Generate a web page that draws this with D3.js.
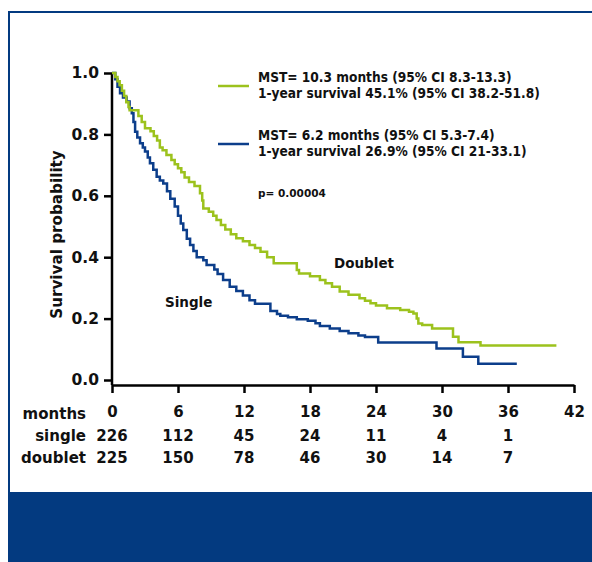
<!DOCTYPE html>
<html>
<head>
<meta charset="utf-8">
<script src="https://cdn.jsdelivr.net/npm/d3@7"></script>
<style>
  html, body { margin: 0; padding: 0; background: #fff; }
  svg text { font-family: "DejaVu Sans", sans-serif; font-weight: 700; fill: #111; }
  svg text.legend { font-family: "DejaVu Sans Condensed", "DejaVu Sans", sans-serif; font-stretch: condensed; }
</style>
</head>
<body>
<svg id="chart" width="592" height="562"></svg>
<script>
// --- data ---
const months = [0, 6, 12, 18, 24, 30, 36, 42];
const atRiskSingle = [226, 112, 45, 24, 11, 4, 1];
const atRiskDoublet = [225, 150, 78, 46, 30, 14, 7];
const yTicks = [0, 0.2, 0.4, 0.6, 0.8, 1.0];

// Kaplan-Meier steps: time of drop (months) and survival after it
const doubletTime = [0, 0.3, 0.5, 0.7, 0.9, 1.1, 1.3, 1.5, 1.6, 2.4, 2.7, 3.0, 3.5, 3.8, 4.1, 4.35, 4.6, 4.95, 5.4, 5.7,
  6.0, 6.3, 6.6, 7.0, 7.5, 8.0, 8.2, 8.3, 8.8, 9.2, 9.5, 9.9, 10.3, 10.8, 11.3, 11.9, 12.5, 13.0, 13.5, 14.1,
  14.7, 16.8, 17.0, 18.0, 18.9, 19.4, 20.0, 20.7, 21.5, 22.5, 23.0, 23.5, 24.0, 25.0, 26.2, 27.0, 27.4, 27.7,
  27.85, 28.2, 29.1, 31.0, 31.5, 33.5, 40.4];
const doubletSurv = [1.0, 0.987, 0.973, 0.96, 0.942, 0.925, 0.905, 0.889, 0.879, 0.86, 0.84, 0.82, 0.81, 0.795, 0.78, 0.757, 0.748, 0.733, 0.717, 0.703,
  0.69, 0.677, 0.66, 0.645, 0.632, 0.608, 0.585, 0.559, 0.548, 0.535, 0.521, 0.505, 0.49, 0.475, 0.462, 0.452, 0.44, 0.43, 0.418, 0.40,
  0.38, 0.358, 0.347, 0.338, 0.326, 0.315, 0.304, 0.288, 0.278, 0.266, 0.258, 0.25, 0.243, 0.234, 0.228, 0.222, 0.217, 0.2,
  0.184, 0.179, 0.168, 0.141, 0.123, 0.112, 0.112];

const singleTime = [0, 0.3, 0.5, 0.73, 1.0, 1.33, 1.6, 1.8, 1.95, 2.1, 2.3, 2.55, 2.8, 3.0, 3.25, 3.45, 3.75, 4.06, 4.35, 4.66,
  5.0, 5.3, 5.7, 6.0, 6.25, 6.48, 6.8, 7.1, 7.4, 7.7, 8.3, 8.6, 9.3, 9.6, 10.1, 10.7, 11.3, 11.9, 12.5, 13.0,
  14.4, 15.0, 15.3, 16.0, 16.8, 17.8, 18.5, 18.9, 19.8, 20.7, 21.5, 22.4, 23.0, 24.2, 29.5, 31.9, 33.3, 36.8];
const singleSurv = [1.0, 0.98, 0.955, 0.934, 0.92, 0.907, 0.885, 0.869, 0.84, 0.809, 0.79, 0.771, 0.757, 0.744, 0.725, 0.706, 0.685, 0.662, 0.65, 0.64,
  0.615, 0.59, 0.565, 0.535, 0.51, 0.489, 0.46, 0.44, 0.42, 0.40, 0.39, 0.375, 0.36, 0.345, 0.326, 0.304, 0.29, 0.275, 0.26, 0.248,
  0.225, 0.215, 0.209, 0.204, 0.198, 0.193, 0.185, 0.176, 0.168, 0.16, 0.152, 0.145, 0.14, 0.122, 0.103, 0.076, 0.053, 0.053];

const legendDoublet = ["MST= 10.3 months (95% CI 8.3-13.3)", "1-year survival 45.1% (95% CI 38.2-51.8)"];
const legendSingle = ["MST= 6.2 months (95% CI 5.3-7.4)", "1-year survival 26.9% (95% CI 21-33.1)"];
const pValue = "p= 0.00004";

const green = "#9cc21d";
const navy = "#0c3e8b";
const frameBlue = "#033a80";

const svg = d3.select("#chart");

// --- frame ---
svg.append("rect").attr("x", 0).attr("y", 0).attr("width", 592).attr("height", 562).attr("fill", "#fff");
svg.append("line").attr("x1", 8).attr("x2", 592).attr("y1", 12).attr("y2", 12)
   .attr("stroke", frameBlue).attr("stroke-width", 2);
svg.append("line").attr("x1", 9).attr("x2", 9).attr("y1", 11).attr("y2", 492)
   .attr("stroke", frameBlue).attr("stroke-width", 2);
svg.append("rect").attr("x", 8).attr("y", 492).attr("width", 584).attr("height", 70).attr("fill", frameBlue);

// --- scales ---
const x = d3.scaleLinear().domain([0, 42]).range([112, 574]);
const y = d3.scaleLinear().domain([0, 1]).range([380, 73]);
const axisY = 385;

// y axis
const gy = svg.append("g").attr("transform", `translate(${x(0)},0)`)
  .call(d3.axisLeft(y).tickValues(yTicks).tickFormat(d3.format(".1f")).tickSize(8).tickSizeOuter(0).tickPadding(5));
gy.select(".domain").attr("d", `M0,${y(1)}V${axisY}`);
gy.selectAll("line, path").attr("stroke", "#000").attr("stroke-width", 2.5);
gy.selectAll("text").attr("font-size", 15.5).attr("fill", "#111");

// x axis (tick labels are the months row)
const gx = svg.append("g").attr("transform", `translate(0,${axisY})`)
  .call(d3.axisBottom(x).tickValues(months).tickSize(8).tickSizeOuter(0).tickPadding(13));
gx.selectAll("line, path").attr("stroke", "#000").attr("stroke-width", 2.5);
gx.selectAll("text").attr("font-size", 15).attr("fill", "#111");

svg.append("text")
  .attr("transform", `translate(62,${y(0.5) + 8}) rotate(-90)`)
  .attr("text-anchor", "middle").attr("font-size", 15.2)
  .text("Survival probability");

// --- curves ---
const line = d3.line().x(d => x(d[0])).y(d => y(d[1])).curve(d3.curveStepAfter);
const series = [
  { t: singleTime, s: singleSurv, color: navy },
  { t: doubletTime, s: doubletSurv, color: green }
];
series.forEach(sr => {
  svg.append("path")
    .datum(sr.t.map((t, i) => [t, sr.s[i]]))
    .attr("d", line)
    .attr("fill", "none")
    .attr("stroke", sr.color)
    .attr("stroke-width", 2.5)
    .attr("stroke-linejoin", "miter");
});

svg.append("text").attr("x", 334).attr("y", 268).attr("font-size", 13.5).text("Doublet");
svg.append("text").attr("x", 165).attr("y", 307).attr("font-size", 13.5).text("Single");

// --- legend ---
function legendBlock(lines, color, cy) {
  svg.append("line").attr("x1", 218).attr("x2", 249).attr("y1", cy + 8).attr("y2", cy + 8)
     .attr("stroke", color).attr("stroke-width", 2.5);
  lines.forEach((l, i) => {
    svg.append("text").attr("class", "legend").attr("x", 258).attr("y", cy + 4 + i * 16)
       .attr("font-size", 13.6).text(l);
  });
}
legendBlock(legendDoublet, green, 78);
legendBlock(legendSingle, navy, 136);
svg.append("text").attr("x", 258).attr("y", 197).attr("font-size", 10.5).text(pValue);

// --- numbers at risk ---
const rows = [
  { label: "single", vals: atRiskSingle, yy: 441 },
  { label: "doublet", vals: atRiskDoublet, yy: 463 }
];
svg.append("text").attr("x", 86).attr("y", 419).attr("text-anchor", "end").attr("font-size", 15).text("months");
rows.forEach(r => {
  svg.append("text").attr("x", 86).attr("y", r.yy).attr("text-anchor", "end").attr("font-size", 15).text(r.label);
  svg.selectAll(null).data(r.vals).enter().append("text")
    .attr("x", (d, i) => x(months[i]))
    .attr("y", r.yy)
    .attr("text-anchor", "middle")
    .attr("font-size", 15)
    .text(d => d);
});
</script>
</body>
</html>
